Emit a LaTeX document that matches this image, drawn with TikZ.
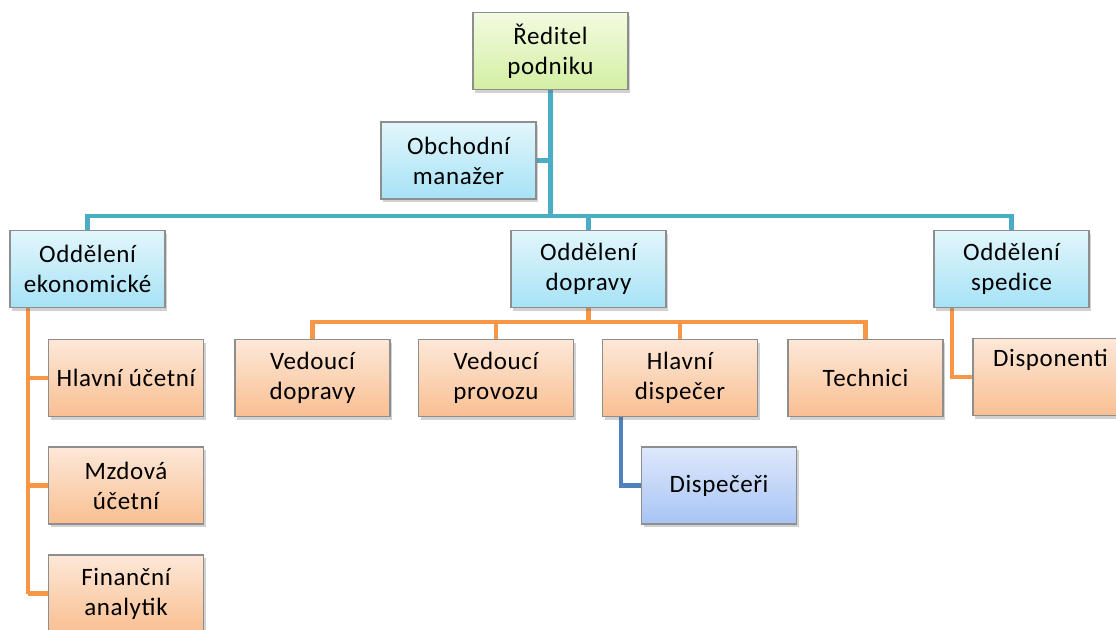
\documentclass[tikz,border=0pt]{standalone}
\usepackage{fontspec}
\setmainfont[LetterSpace=2.5]{Carlito}
\usetikzlibrary{shadows,backgrounds}
\definecolor{lnblue}{HTML}{4BACC6}
\definecolor{lnorange}{HTML}{F79646}
\definecolor{lndark}{HTML}{4F81BD}
\definecolor{frame}{HTML}{8E8E8E}
\definecolor{gtop}{HTML}{F3FBE0}
\definecolor{gbot}{HTML}{D3EFA2}
\definecolor{btop}{HTML}{E2F6FC}
\definecolor{bbot}{HTML}{A6E2F6}
\definecolor{otop}{HTML}{FDE8D8}
\definecolor{obot}{HTML}{F9BF92}
\definecolor{ntop}{HTML}{DEE8FB}
\definecolor{nbot}{HTML}{A8C4F4}
\tikzset{
  box/.style={draw=frame, line width=1.3pt, minimum width=155pt, minimum height=77pt,
    align=center, inner sep=2pt,
    font=\fontsize{25pt}{30pt}\selectfont,
    drop shadow={shadow xshift=2pt, shadow yshift=-3pt, opacity=0.3, fill=black!60}},
  greenbox/.style={box, top color=gtop, bottom color=gbot},
  bluebox/.style={box, top color=btop, bottom color=bbot},
  orangebox/.style={box, top color=otop, bottom color=obot},
  navybox/.style={box, top color=ntop, bottom color=nbot},
  bline/.style={lnblue, line width=4.5pt},
  oline/.style={lnorange, line width=4.5pt},
  dline/.style={lndark, line width=4.5pt},
}
\begin{document}
\begin{tikzpicture}[x=1pt, y=-1pt]
\useasboundingbox (0,0) rectangle (1116,629);
\clip (0,0) rectangle (1116,629);

% bus coordinates
\coordinate (topbus) at (0,216);
\coordinate (dopbus) at (0,322);
\coordinate (ekox) at (28,0);
\coordinate (spedx) at (952,0);
\coordinate (dispx) at (621,0);

% boxes
\node[greenbox] (red) at (550.5,51) {Ředitel\\podniku};
\node[bluebox] (obch) at (458.5,160.5) {Obchodní\\manažer};
\node[bluebox] (eko) at (87.5,269) {Oddělení\\ekonomické};
\node[bluebox] (dop) at (588.5,269) {Oddělení\\dopravy};
\node[bluebox] (sped) at (1011.5,269) {Oddělení\\spedice};

\node[orangebox] (vd) at (312.5,378) {Vedoucí\\dopravy};
\node[orangebox] (vp) at (496,378) {Vedoucí\\provozu};
\node[orangebox] (hd) at (680,378) {Hlavní\\dispečer};
\node[orangebox] (tech) at (865.5,378) {Technici};
\node[orangebox] (dispo) at (1050.5,377) {Disponenti\\\strut};

\node[orangebox] (hu) at (126,378) {Hlavní účetní};
\node[orangebox] (mu) at (126,485.5) {Mzdová\\účetní};
\node[orangebox] (fa) at (126,593.5) {Finanční\\analytik};

\node[navybox] (disp) at (719,485.5) {Dispečeři};

\begin{scope}[on background layer]
% blue tree lines
\draw[bline] (red.south) -- (red.south |- topbus);
\draw[bline] (obch.east) -- (obch.east -| red.south);
\draw[bline, line cap=rect] (eko.north |- topbus) -- (sped.north |- topbus);
\draw[bline] (eko.north |- topbus) -- (eko.north);
\draw[bline] (dop.north |- topbus) -- (dop.north);
\draw[bline] (sped.north |- topbus) -- (sped.north);

% orange lines under the transport department
\draw[oline] (dop.south) -- (dop.south |- dopbus);
\draw[oline, line cap=rect] (vd.north |- dopbus) -- (tech.north |- dopbus);
\foreach \n in {vd,vp,hd,tech} \draw[oline] (\n.north |- dopbus) -- (\n.north);

% orange lines under the economic department
\draw[oline] (ekox |- eko.south) -- (ekox |- fa.west);
\foreach \n in {hu,mu,fa} \draw[oline] (ekox |- \n.west) -- (\n.west);

% forwarding department
\draw[oline] (spedx |- sped.south) -- (spedx |- dispo.west) -- (dispo.west);

% dispatchers
\draw[dline] (dispx |- hd.south) -- (dispx |- disp.west) -- (disp.west);
\end{scope}
\end{tikzpicture}
\end{document}
